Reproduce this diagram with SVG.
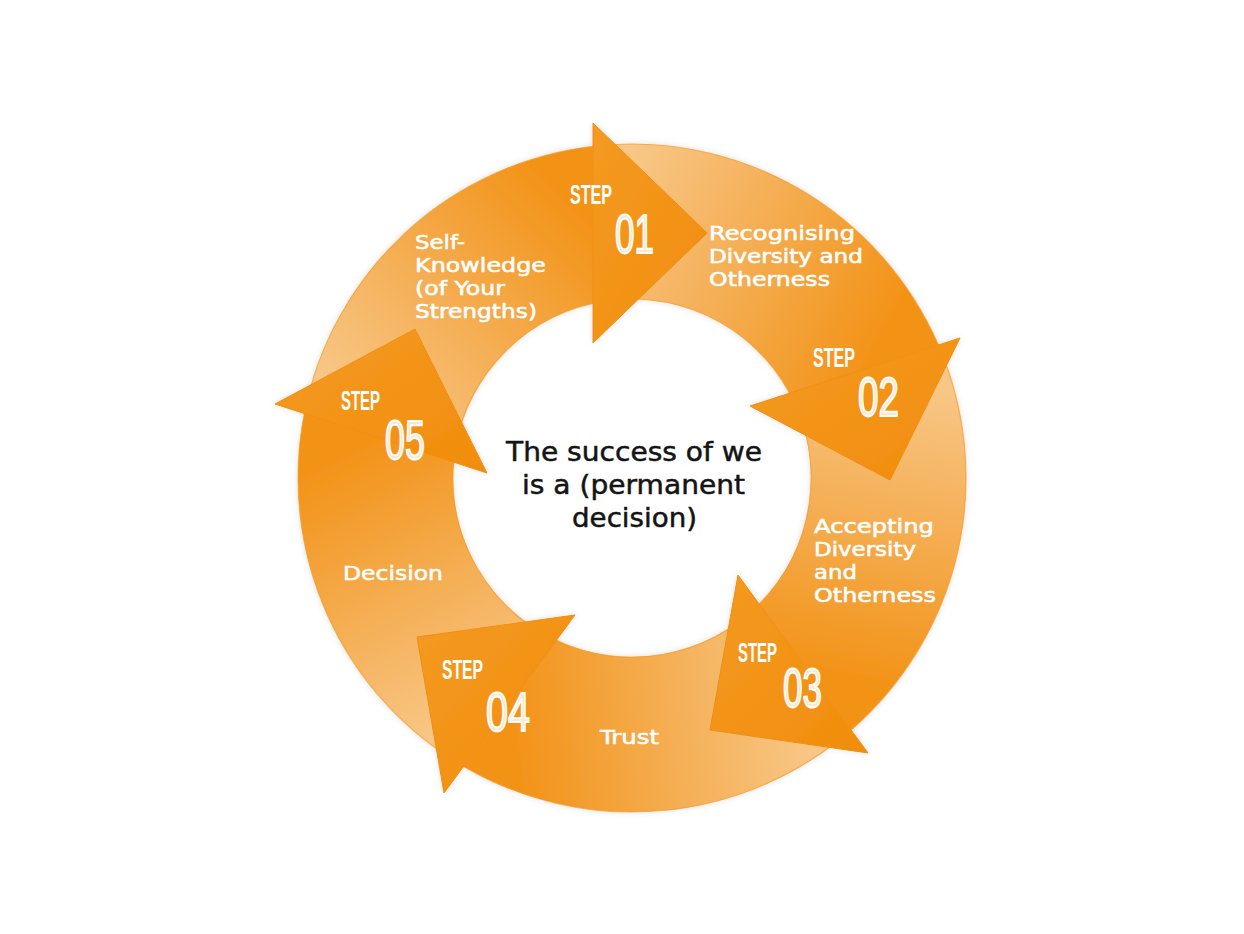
<svg xmlns="http://www.w3.org/2000/svg" width="1244" height="934" viewBox="0 0 1244 934">
  <defs>
    <style>
      .body { stroke: #F39A28; stroke-width: 1.2; stroke-opacity: 0.7; }
      .head { fill: url(#headGrad); stroke: #F08E10; stroke-width: 1; }
      .step { font-family: "Liberation Sans", Arial, sans-serif; font-weight: bold; font-size: 27px; fill: #ffffff; }
      .num { font-family: "Liberation Sans", Arial, sans-serif; font-weight: normal; font-size: 56px; fill: #FCE6CC; stroke: #ffffff; stroke-width: 2; }
      .lbl { font-family: "DejaVu Sans", "Liberation Sans", sans-serif; font-weight: normal; font-size: 19px; fill: #ffffff; stroke: #ffffff; stroke-width: 0.55; }
      .ctr { font-family: "DejaVu Sans", "Liberation Sans", sans-serif; font-size: 26px; fill: #141414; stroke: #141414; stroke-width: 0.5; }
    </style>
    <linearGradient id="headGrad" x1="0" y1="0" x2="1" y2="1">
      <stop offset="0" stop-color="#F49A22"/>
      <stop offset="1" stop-color="#F18D0C"/>
    </linearGradient>
    <linearGradient id="g1" gradientUnits="userSpaceOnUse" x1="379" y1="438" x2="593" y2="225">
      <stop offset="0" stop-color="#F8C787"/>
      <stop offset="0.4" stop-color="#F5B25C"/>
      <stop offset="0.8" stop-color="#F39D2E"/>
      <stop offset="1" stop-color="#F39318"/>
    </linearGradient>
    <linearGradient id="g2" gradientUnits="userSpaceOnUse" x1="593" y1="225" x2="864" y2="369">
      <stop offset="0" stop-color="#F8C787"/>
      <stop offset="0.4" stop-color="#F5B25C"/>
      <stop offset="0.8" stop-color="#F39D2E"/>
      <stop offset="1" stop-color="#F39318"/>
    </linearGradient>
    <linearGradient id="g3" gradientUnits="userSpaceOnUse" x1="864" y1="369" x2="805" y2="667">
      <stop offset="0" stop-color="#F8C787"/>
      <stop offset="0.4" stop-color="#F5B25C"/>
      <stop offset="0.8" stop-color="#F39D2E"/>
      <stop offset="1" stop-color="#F39318"/>
    </linearGradient>
    <linearGradient id="g4" gradientUnits="userSpaceOnUse" x1="805" y1="667" x2="510" y2="703">
      <stop offset="0" stop-color="#F8C787"/>
      <stop offset="0.4" stop-color="#F5B25C"/>
      <stop offset="0.8" stop-color="#F39D2E"/>
      <stop offset="1" stop-color="#F39318"/>
    </linearGradient>
    <linearGradient id="g5" gradientUnits="userSpaceOnUse" x1="510" y1="703" x2="379" y2="438">
      <stop offset="0" stop-color="#F8C787"/>
      <stop offset="0.4" stop-color="#F5B25C"/>
      <stop offset="0.8" stop-color="#F39D2E"/>
      <stop offset="1" stop-color="#F39318"/>
    </linearGradient>
    <filter id="glow" x="-10%" y="-10%" width="120%" height="120%">
      <feDropShadow dx="0" dy="0" stdDeviation="3" flood-color="#000000" flood-opacity="0.12"/>
    </filter>
  </defs>

  <rect x="0" y="0" width="1244" height="934" fill="#ffffff"/>

  <g id="connectors" filter="url(#glow)">
    <g id="ring-segments">
      <path id="arc-01" class="body" fill="url(#g1)" d="M 304.3 413.5 A 334 334 0 0 1 593 146.3 L 593 303.3 A 179 179 0 0 0 453.7 462.2 Z"/>
      <path id="arc-02" class="body" fill="url(#g2)" d="M 593 146.3 A 334 334 0 0 1 938.4 345 L 789.6 393.2 A 179 179 0 0 0 593 303.3 Z"/>
      <path id="arc-03" class="body" fill="url(#g3)" d="M 938.4 345 A 334 334 0 0 1 851.2 730 L 759.2 604 A 179 179 0 0 0 789.6 393.2 Z"/>
      <path id="arc-04" class="body" fill="url(#g4)" d="M 851.2 730 A 334 334 0 0 1 463.6 766.4 L 556.4 640.3 A 179 179 0 0 0 759.2 604 Z"/>
      <path id="arc-05" class="body" fill="url(#g5)" d="M 463.6 766.4 A 334 334 0 0 1 304.3 413.5 L 453.7 462.2 A 179 179 0 0 0 556.4 640.3 Z"/>
    </g>
    <g id="arrowheads">
      <polygon id="head-01" class="head" points="593,123 707,233 593,343"/>
      <polygon id="head-02" class="head" points="960,338 890,480 750,406"/>
      <polygon id="head-03" class="head" points="868,753 710,730 738,575"/>
      <polygon id="head-04" class="head" points="444,793 417,637 575,615"/>
      <polygon id="head-05" class="head" points="275,404 415,329 487,473"/>
    </g>
  </g>

  <g id="step-01">
    <text class="step" x="570" y="204" textLength="42" lengthAdjust="spacingAndGlyphs">STEP</text>
    <text class="num" x="615" y="253" textLength="39" lengthAdjust="spacingAndGlyphs">01</text>
    <text class="lbl" x="415" y="249" textLength="50" lengthAdjust="spacingAndGlyphs">Self-</text>
    <text class="lbl" x="415" y="272" textLength="131" lengthAdjust="spacingAndGlyphs">Knowledge</text>
    <text class="lbl" x="415" y="295" textLength="90" lengthAdjust="spacingAndGlyphs">(of Your</text>
    <text class="lbl" x="415" y="318" textLength="122" lengthAdjust="spacingAndGlyphs">Strengths)</text>
  </g>

  <g id="step-02">
    <text class="step" x="813" y="367" textLength="42" lengthAdjust="spacingAndGlyphs">STEP</text>
    <text class="num" x="858" y="416" textLength="41" lengthAdjust="spacingAndGlyphs">02</text>
    <text class="lbl" x="709" y="240" textLength="146" lengthAdjust="spacingAndGlyphs">Recognising</text>
    <text class="lbl" x="709" y="263" textLength="154" lengthAdjust="spacingAndGlyphs">Diversity and</text>
    <text class="lbl" x="709" y="286" textLength="121" lengthAdjust="spacingAndGlyphs">Otherness</text>
  </g>

  <g id="step-03">
    <text class="step" x="738" y="662" textLength="39" lengthAdjust="spacingAndGlyphs">STEP</text>
    <text class="num" x="783" y="707" textLength="39" lengthAdjust="spacingAndGlyphs">03</text>
    <text class="lbl" x="814" y="533" textLength="120" lengthAdjust="spacingAndGlyphs">Accepting</text>
    <text class="lbl" x="814" y="556" textLength="102" lengthAdjust="spacingAndGlyphs">Diversity</text>
    <text class="lbl" x="814" y="579" textLength="43" lengthAdjust="spacingAndGlyphs">and</text>
    <text class="lbl" x="814" y="602" textLength="122" lengthAdjust="spacingAndGlyphs">Otherness</text>
  </g>

  <g id="step-04">
    <text class="step" x="442" y="679" textLength="41" lengthAdjust="spacingAndGlyphs">STEP</text>
    <text class="num" x="486" y="731" textLength="44" lengthAdjust="spacingAndGlyphs">04</text>
    <text class="lbl" x="600" y="744" textLength="59" lengthAdjust="spacingAndGlyphs">Trust</text>
  </g>

  <g id="step-05">
    <text class="step" x="341" y="410" textLength="39" lengthAdjust="spacingAndGlyphs">STEP</text>
    <text class="num" x="385" y="459" textLength="40" lengthAdjust="spacingAndGlyphs">05</text>
    <text class="lbl" x="343" y="580" textLength="100" lengthAdjust="spacingAndGlyphs">Decision</text>
  </g>

  <g id="center">
    <text class="ctr" x="506" y="461" textLength="256" lengthAdjust="spacingAndGlyphs">The success of we</text>
    <text class="ctr" x="522" y="494" textLength="223" lengthAdjust="spacingAndGlyphs">is a (permanent</text>
    <text class="ctr" x="572" y="527" textLength="125" lengthAdjust="spacingAndGlyphs">decision)</text>
  </g>
</svg>
